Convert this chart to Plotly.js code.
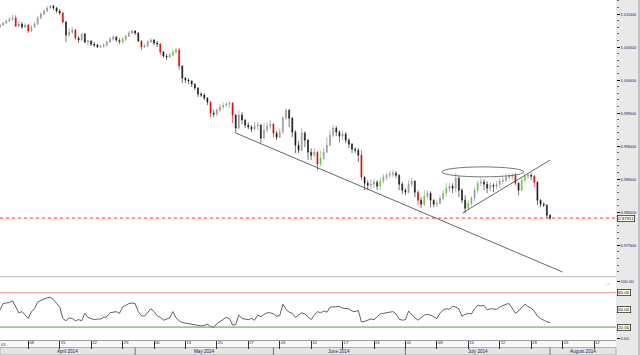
<!DOCTYPE html>
<html><head><meta charset="utf-8">
<script src="https://cdn.plot.ly/plotly-3.0.1.min.js"></script>
<style>html,body{margin:0;padding:0;background:#e9e9e9;}#chart{width:640px;height:355px;}</style>
</head><body><div id="chart"></div>
<script>
// ---- data (12-hour candles, 1 Apr 2014 .. 1 Aug 2014) ----
const openP = [
1.00803,1.00833,1.00864,1.00894,1.00924,1.00939,1.00818,1.00848,1.00803,1.00833,
1.00742,1.00803,1.00848,1.00939,1.01000,1.01045,1.01091,1.01121,1.01091,1.01045,
1.01015,1.00879,1.00682,1.00727,1.00757,1.00636,1.00606,1.00697,1.00576,1.00591,
1.00545,1.00530,1.00500,1.00515,1.00530,1.00576,1.00621,1.00651,1.00606,1.00576,
1.00621,1.00667,1.00712,1.00742,1.00712,1.00591,1.00500,1.00515,1.00576,1.00606,
1.00560,1.00545,1.00424,1.00363,1.00348,1.00379,1.00424,1.00454,1.00212,1.00030,
1.00000,0.99985,0.99939,0.99879,0.99788,0.99773,0.99727,0.99666,0.99500,0.99485,
0.99545,0.99591,0.99621,0.99636,0.99651,0.99470,0.99273,0.99470,0.99394,0.99318,
0.99288,0.99257,0.99303,0.99318,0.99121,0.99242,0.99303,0.99333,0.99197,0.99136,
0.99212,0.99424,0.99545,0.99424,0.99212,0.99015,0.98939,0.99197,0.99091,0.98909,
0.98863,0.98909,0.98727,0.98818,0.98909,0.99015,0.99166,0.99273,0.99212,0.99151,
0.99182,0.99091,0.99030,0.98954,0.98939,0.98863,0.98530,0.98439,0.98409,0.98424,
0.98454,0.98394,0.98469,0.98530,0.98560,0.98576,0.98591,0.98560,0.98424,0.98333,
0.98303,0.98424,0.98469,0.98303,0.98182,0.98121,0.98242,0.98288,0.98182,0.98121,
0.98136,0.98212,0.98288,0.98363,0.98394,0.98363,0.98515,0.98333,0.98182,0.98060,
0.98136,0.98212,0.98333,0.98439,0.98454,0.98424,0.98363,0.98409,0.98394,0.98424,
0.98469,0.98485,0.98530,0.98545,0.98560,0.98439,0.98333,0.98485,0.98545,0.98560,
0.98545,0.98454,0.98182,0.98121,0.98106,0.97954];
const highP = [
1.00848,1.00879,1.00924,1.00954,1.00985,1.00985,1.00894,1.00879,1.00864,1.00848,
1.00833,1.00879,1.00970,1.01030,1.01076,1.01121,1.01136,1.01136,1.01106,1.01076,
1.01030,1.00894,1.00788,1.00803,1.00773,1.00667,1.00712,1.00712,1.00606,1.00606,
1.00576,1.00545,1.00530,1.00560,1.00591,1.00651,1.00682,1.00667,1.00636,1.00651,
1.00682,1.00742,1.00757,1.00757,1.00727,1.00606,1.00545,1.00606,1.00636,1.00621,
1.00591,1.00560,1.00439,1.00394,1.00409,1.00470,1.00485,1.00485,1.00227,1.00045,
1.00030,1.00000,0.99954,0.99894,0.99818,0.99803,0.99742,0.99682,0.99545,0.99576,
0.99636,0.99666,0.99666,0.99682,0.99666,0.99485,0.99545,0.99515,0.99409,0.99364,
0.99318,0.99364,0.99364,0.99333,0.99348,0.99364,0.99394,0.99348,0.99227,0.99273,
0.99454,0.99576,0.99560,0.99439,0.99242,0.99076,0.99273,0.99227,0.99106,0.98970,
0.98970,0.98924,0.98939,0.98970,0.99136,0.99242,0.99318,0.99303,0.99242,0.99242,
0.99212,0.99121,0.99045,0.98985,0.98970,0.98939,0.98545,0.98485,0.98500,0.98515,
0.98485,0.98530,0.98576,0.98591,0.98621,0.98636,0.98621,0.98576,0.98454,0.98363,
0.98485,0.98515,0.98485,0.98333,0.98227,0.98333,0.98333,0.98318,0.98197,0.98182,
0.98257,0.98333,0.98439,0.98439,0.98439,0.98591,0.98545,0.98363,0.98257,0.98182,
0.98242,0.98379,0.98485,0.98515,0.98500,0.98469,0.98454,0.98439,0.98469,0.98515,
0.98530,0.98576,0.98591,0.98591,0.98591,0.98454,0.98530,0.98591,0.98591,0.98591,
0.98560,0.98469,0.98197,0.98151,0.98121,0.97970];
const lowP = [
1.00788,1.00818,1.00848,1.00879,1.00894,1.00803,1.00803,1.00773,1.00788,1.00712,
1.00727,1.00788,1.00833,1.00924,1.00985,1.01030,1.01076,1.01060,1.01015,1.00985,
1.00864,1.00576,1.00651,1.00697,1.00606,1.00560,1.00591,1.00560,1.00530,1.00515,
1.00500,1.00485,1.00485,1.00485,1.00500,1.00560,1.00591,1.00576,1.00545,1.00560,
1.00591,1.00651,1.00697,1.00682,1.00576,1.00454,1.00485,1.00500,1.00560,1.00530,
1.00500,1.00379,1.00333,1.00303,1.00333,1.00363,1.00394,1.00151,0.99954,0.99954,
0.99939,0.99894,0.99848,0.99742,0.99742,0.99697,0.99621,0.99439,0.99439,0.99454,
0.99515,0.99545,0.99591,0.99576,0.99348,0.99197,0.99257,0.99333,0.99273,0.99257,
0.99212,0.99227,0.99242,0.99045,0.99106,0.99197,0.99257,0.99136,0.99091,0.99121,
0.99182,0.99394,0.99288,0.99136,0.98894,0.98894,0.98924,0.98985,0.98788,0.98788,
0.98833,0.98636,0.98697,0.98788,0.98894,0.99000,0.99136,0.99151,0.99060,0.99091,
0.99045,0.98970,0.98894,0.98894,0.98757,0.98485,0.98333,0.98333,0.98348,0.98363,
0.98333,0.98333,0.98439,0.98485,0.98515,0.98530,0.98515,0.98333,0.98273,0.98257,
0.98288,0.98379,0.98227,0.98106,0.98060,0.98091,0.98197,0.98076,0.98076,0.98076,
0.98121,0.98182,0.98242,0.98303,0.98288,0.98303,0.98227,0.98136,0.97985,0.98030,
0.98091,0.98166,0.98288,0.98394,0.98333,0.98288,0.98318,0.98303,0.98348,0.98363,
0.98424,0.98454,0.98485,0.98500,0.98409,0.98257,0.98318,0.98439,0.98500,0.98485,
0.98379,0.98106,0.98076,0.98076,0.97909,0.97879];
const closeP = [
1.00833,1.00864,1.00894,1.00924,1.00939,1.00818,1.00848,1.00803,1.00833,1.00742,
1.00803,1.00848,1.00939,1.01000,1.01045,1.01091,1.01121,1.01091,1.01045,1.01015,
1.00879,1.00682,1.00727,1.00757,1.00636,1.00606,1.00697,1.00576,1.00591,1.00545,
1.00530,1.00500,1.00515,1.00530,1.00576,1.00621,1.00651,1.00606,1.00576,1.00621,
1.00667,1.00712,1.00742,1.00712,1.00591,1.00500,1.00515,1.00576,1.00606,1.00560,
1.00545,1.00424,1.00363,1.00348,1.00379,1.00424,1.00454,1.00212,1.00030,1.00000,
0.99985,0.99939,0.99879,0.99788,0.99773,0.99727,0.99666,0.99500,0.99485,0.99545,
0.99591,0.99621,0.99636,0.99651,0.99470,0.99273,0.99470,0.99394,0.99318,0.99288,
0.99257,0.99303,0.99318,0.99121,0.99242,0.99303,0.99333,0.99197,0.99136,0.99212,
0.99424,0.99545,0.99424,0.99212,0.99015,0.98939,0.99197,0.99091,0.98909,0.98863,
0.98909,0.98727,0.98818,0.98909,0.99015,0.99166,0.99273,0.99212,0.99151,0.99182,
0.99091,0.99030,0.98954,0.98939,0.98863,0.98530,0.98439,0.98409,0.98424,0.98454,
0.98394,0.98469,0.98530,0.98560,0.98576,0.98591,0.98560,0.98424,0.98333,0.98303,
0.98424,0.98469,0.98303,0.98182,0.98121,0.98242,0.98288,0.98182,0.98121,0.98136,
0.98212,0.98288,0.98363,0.98394,0.98363,0.98515,0.98333,0.98182,0.98060,0.98136,
0.98212,0.98333,0.98439,0.98454,0.98424,0.98363,0.98409,0.98394,0.98424,0.98469,
0.98485,0.98530,0.98545,0.98560,0.98439,0.98333,0.98485,0.98545,0.98560,0.98545,
0.98454,0.98182,0.98121,0.98106,0.97954,0.97911];
const rsi14 = [
50,61,62,63,66,55,45,47,41,35,
47,52,64,67,69,71,72,68,61,55,
35,31,36,35,31,33,31,44,37,35,
33,34,34,37,38,45,46,47,44,55,
58,61,62,61,47,40,39,45,52,47,
40,37,32,34,36,47,36,31,28,27,
26,26,25,23,22,23,25,21,19.5,26,
30,33,37,35,23.5,24,41,35,34,33,
35,32,41,38,42,45,45,43,39,40,
60,51,46,44,37,41,45,43,38,33,
41,47,45,48,46,55,55,56,56,53,
52,52,48,47,49,29,30,32,34,33,
38,43,44,45,46,47,43,34,32,33,
48,41,36,32,36,41,42,41,38,35,
44,50,52,51,56.5,55,52,39,42,44,
43,52,58,57,58,50,52,52,51,55,
58,60,61,53,44,48,55,60,56,53,
48,39,35,32,29,28];
// candles highlighted red / green in the reference (1-based candle numbers)
const redBars = [6,10,21,25,39,46,52,58,68,75,88,102,116,134,165,171];
const greenBars = [11,40,56,72,103,122,136,143,150,153,167,168];
// weekly (Tuesday) tick labels, one every 5 trading days from 1 Apr 2014
const weekLabels = ['01','08','15','22','29','06','13','20','27','03','10','17','24','01','08','15','22','29','05','12'];
const monthLabels = ['April 2014','May 2014','June 2014','July 2014','August 2014'];
const monthStartDay = [22,44,65,88];           // trading-day index of 1 May, 2 Jun, 1 Jul, 1 Aug
const priceTicks = [1.01,1.005,1.0,0.995,0.99,0.985,0.98,0.975];
const rsiLevels = [80,50,20];
const lastPrice = 0.97911;
// drawn analysis objects (candle number, price)
const trendDown = {x:[76.1,180.0], y:[0.99197,0.97095]};
const trendUp   = {x:[148.2,176.0], y:[0.97989,0.98788]};
const ellipse   = {x:[141.6,167.7], y:[0.98535,0.98686]};

// ---- build ----
const xs = closeP.map((_, i) => i + 1);
function pick(keep){
  const ids = xs.map((_, i) => i).filter(keep);
  return {x: ids.map(i=>xs[i]), open: ids.map(i=>openP[i]), high: ids.map(i=>highP[i]),
          low: ids.map(i=>lowP[i]), close: ids.map(i=>closeP[i])};
}
function cs(d, upLine, upFill, dnLine, dnFill){
  return Object.assign({type:'candlestick', xaxis:'x', yaxis:'y', whiskerwidth:0, hoverinfo:'skip',
    increasing:{line:{color:upLine,width:0.6}, fillcolor:upFill},
    decreasing:{line:{color:dnLine,width:0.6}, fillcolor:dnFill}, showlegend:false}, d);
}
const isRed = i => redBars.includes(i+1), isGreen = i => greenBars.includes(i+1);
const traces = [
  cs(pick(i => !isRed(i) && !isGreen(i)), '#8a8a8a', '#b8b8b8', '#151515', '#151515'),
  cs(pick(isRed), '#e00000', '#e00000', '#e00000', '#e00000'),
  cs(pick(isGreen), '#6cc040', '#6cc040', '#6cc040', '#6cc040'),
  {type:'scatter', mode:'lines', x: xs, y: rsi14, xaxis:'x2', yaxis:'y2',
   line:{color:'#3a3a3a', width:0.8}, hoverinfo:'skip', showlegend:false}
];

const PX = 640, PY = 355, plotR = 616/PX;
const py = v => (PY - v) / PY;
const xRange = [1, 197];
const F = 'Liberation Sans, Arial, sans-serif';
const labCol = '#1c1c5c';

const shapes = [
  {type:'rect', xref:'paper', yref:'paper', x0:0, x1:plotR, y0:py(347.5), y1:py(340), fillcolor:'#f8f8f8', line:{width:0}, layer:'below'},
  {type:'rect', xref:'paper', yref:'paper', x0:0, x1:plotR, y0:0, y1:py(347.5), fillcolor:'#e4e4e4', line:{color:'#a0a0a0', width:0.8}, layer:'below'},
  {type:'line', xref:'paper', yref:'paper', x0:0, x1:plotR, y0:py(276.7), y1:py(276.7), line:{color:'#c4c4c4', width:1}},
  {type:'line', xref:'paper', yref:'paper', x0:0.9985, x1:0.9985, y0:0, y1:1, line:{color:'#a8a8a8', width:1.2}},
  {type:'line', xref:'paper', yref:'y', x0:0, x1:plotR, y0:lastPrice, y1:lastPrice, line:{color:'#ff3030', width:1, dash:'dot'}},
  {type:'line', xref:'paper', yref:'y2', x0:0, x1:plotR, y0:80, y1:80, line:{color:'#f08c8c', width:1}},
  {type:'line', xref:'paper', yref:'y2', x0:0, x1:plotR, y0:20, y1:20, line:{color:'#4fa04f', width:1}},
  {type:'line', xref:'x', yref:'y', x0:trendDown.x[0], x1:trendDown.x[1], y0:trendDown.y[0], y1:trendDown.y[1], line:{color:'#404040', width:0.8}},
  {type:'line', xref:'x', yref:'y', x0:trendUp.x[0], x1:trendUp.x[1], y0:trendUp.y[0], y1:trendUp.y[1], line:{color:'#404040', width:0.8}},
  {type:'circle', xref:'x', yref:'y', x0:ellipse.x[0], x1:ellipse.x[1], y0:ellipse.y[0], y1:ellipse.y[1], line:{color:'#555', width:0.8}}
];
monthStartDay.forEach(d => shapes.push({type:'line', xref:'x2', yref:'paper', x0:d*2, x1:d*2, y0:0, y1:py(347.5), line:{color:'#555', width:0.8}}));

const bounds = [xRange[0]].concat(monthStartDay.map(d => d*2), [xRange[1]]);
const annotations = monthLabels.map((m, k) => ({xref:'x2', yref:'paper', x:(bounds[k]+bounds[k+1])/2, y:py(351.3),
  text:m, showarrow:false, font:{family:F, size:4.6, color:labCol}, xanchor:'center', yanchor:'middle'}));
const boxStyle = {showarrow:false, xref:'paper', x:plotR, xanchor:'left', xshift:0.5, yanchor:'middle',
  bordercolor:'#1a1a1a', borderwidth:0.7, borderpad:0.4, bgcolor:'#fdfdea', font:{family:F, size:4.4, color:'#111'}};
rsiLevels.forEach(v => annotations.push(Object.assign({}, boxStyle, {yref:'y2', y:v, text:v.toFixed(2)})));
annotations.push(Object.assign({}, boxStyle, {yref:'y', y:lastPrice, text:lastPrice.toFixed(5)}));
annotations.push({xref:'paper', yref:'paper', x:0, y:py(344), xanchor:'left', yanchor:'middle', xshift:-1.5,
  text:weekLabels[0], showarrow:false, font:{family:F, size:4.2, color:labCol}});
annotations.push({xref:'paper', yref:'paper', x:607/PX, y:py(284), xanchor:'center', yanchor:'middle',
  text:'▫ ×', showarrow:false, font:{family:F, size:4.5, color:'#c0c0c0'}});

const layout = {
  width:PX, height:PY, margin:{l:0, r:0, t:0, b:0}, boxgap:0.55,
  paper_bgcolor:'#e9e9e9', plot_bgcolor:'#ffffff', showlegend:false,
  xaxis:{domain:[0, plotR], range:xRange, anchor:'y', showticklabels:false, ticks:'', showgrid:false,
         zeroline:false, showline:false, rangeslider:{visible:false}, fixedrange:true},
  yaxis:{domain:[py(276.3), 1], range:[0.97030, 1.01212], side:'right', anchor:'x',
         tickmode:'array', tickvals:priceTicks, tickformat:'.5f', ticks:'outside', ticklen:2.5, tickwidth:1,
         tickcolor:'#000', showgrid:false, zeroline:false, showline:false,
         tickfont:{family:F, size:4.4, color:labCol},
         minor:{dtick:0.001, ticks:'outside', ticklen:1.5, tickcolor:'#666'}},
  xaxis2:{domain:[0, plotR], range:xRange, anchor:'y2', tickmode:'array',
          tickvals: weekLabels.map((_, k) => k*10), ticktext: weekLabels,
          ticks:'outside', ticklen:7.5, tickwidth:1, tickcolor:'#333', ticklabelposition:'outside right',
          ticklabelstandoff:-2, tickfont:{family:F, size:4.2, color:labCol},
          showgrid:false, zeroline:false, showline:true, linecolor:'#a0a0a0', linewidth:1},
  yaxis2:{domain:[py(340), py(277.3)], range:[-2.6, 107], side:'right', anchor:'x2',
          tickmode:'array', tickvals:[0,100], ticktext:['0.00','100.00'], ticks:'outside', ticklen:2.5,
          tickcolor:'#000', showgrid:false, zeroline:false, showline:false,
          tickfont:{family:F, size:4.4, color:labCol}},
  shapes: shapes, annotations: annotations
};
Plotly.newPlot('chart', traces, layout, {staticPlot:true, displayModeBar:false});
</script></body></html>
